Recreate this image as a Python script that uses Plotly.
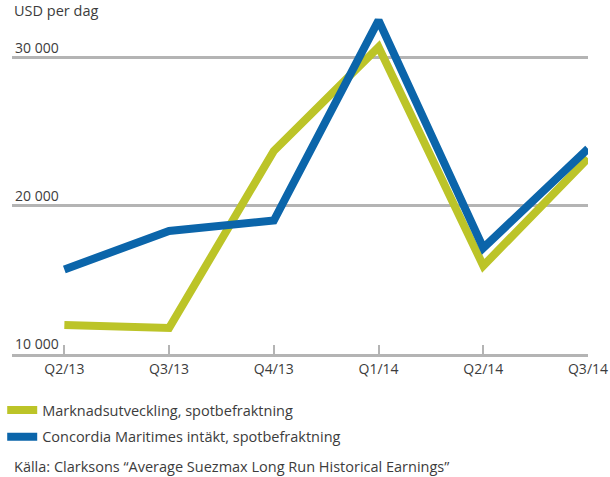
import plotly.graph_objects as go

# kvartal och värden (USD per dag)
quarters = ['Q2/13', 'Q3/13', 'Q4/13', 'Q1/14', 'Q2/14', 'Q3/14']
marknad = [11950, 11750, 23700, 30700, 15950, 23200]
concordia = [15700, 18300, 19000, 32500, 17150, 23850]
ytick_vals = [10000, 20000, 30000]
ytick_text = ['10 000', '20 000', '30 000']

green = '#bcc428'
blue = '#0b65aa'
grey = '#b4b4b4'
txt = '#3c3c3c'
fnt = 'Open Sans'
fs = 14
fs_note = 14.5

fig = go.Figure()
fig.add_trace(go.Scatter(x=quarters, y=marknad, mode='lines',
                         line=dict(color=green, width=8),
                         name='Marknadsutveckling, spotbefraktning',
                         legend='legend'))
fig.add_trace(go.Scatter(x=quarters, y=concordia, mode='lines',
                         line=dict(color=blue, width=8),
                         name='Concordia Maritimes intäkt, spotbefraktning',
                         legend='legend2'))

leg = dict(xanchor='left', yanchor='middle',
           font=dict(size=fs_note, color=txt), itemwidth=30, bgcolor='rgba(0,0,0,0)')

fig.update_layout(
    width=610, height=477,
    margin=dict(l=12, r=22, t=10, b=123, autoexpand=False),
    paper_bgcolor='white', plot_bgcolor='white',
    font=dict(family=fnt, size=fs, color=txt),
    showlegend=True,
    legend=dict(leg, x=-0.017, y=-0.163),
    legend2=dict(leg, x=-0.017, y=-0.241),
    xaxis=dict(range=[-0.5, 5], showgrid=False, showline=True,
               linecolor=grey, linewidth=3, ticks='inside', ticklen=9,
               tickwidth=2, tickcolor=grey, tickfont=dict(size=fs, color=txt),
               zeroline=False, fixedrange=True),
    yaxis=dict(range=[10000, 33200], tickvals=ytick_vals, ticktext=ytick_text,
               ticklabelposition='inside top', showgrid=True, gridcolor=grey,
               gridwidth=3, showline=False, zeroline=False, fixedrange=True,
               tickfont=dict(size=fs, color=txt)),
    annotations=[
        dict(text='USD per dag', xref='paper', yref='paper', x=0, y=1,
             xanchor='left', yanchor='middle', showarrow=False,
             font=dict(size=fs_note, color=txt)),
        dict(text='Källa: Clarksons “Average Suezmax Long Run Historical Earnings”',
             xref='paper', yref='paper', x=0, y=-0.326, xanchor='left',
             yanchor='middle', showarrow=False, font=dict(size=fs_note, color=txt)),
    ],
)

fig.write_html('out.html', config={'displayModeBar': False},
               post_script="document.body.style.margin='0';")
